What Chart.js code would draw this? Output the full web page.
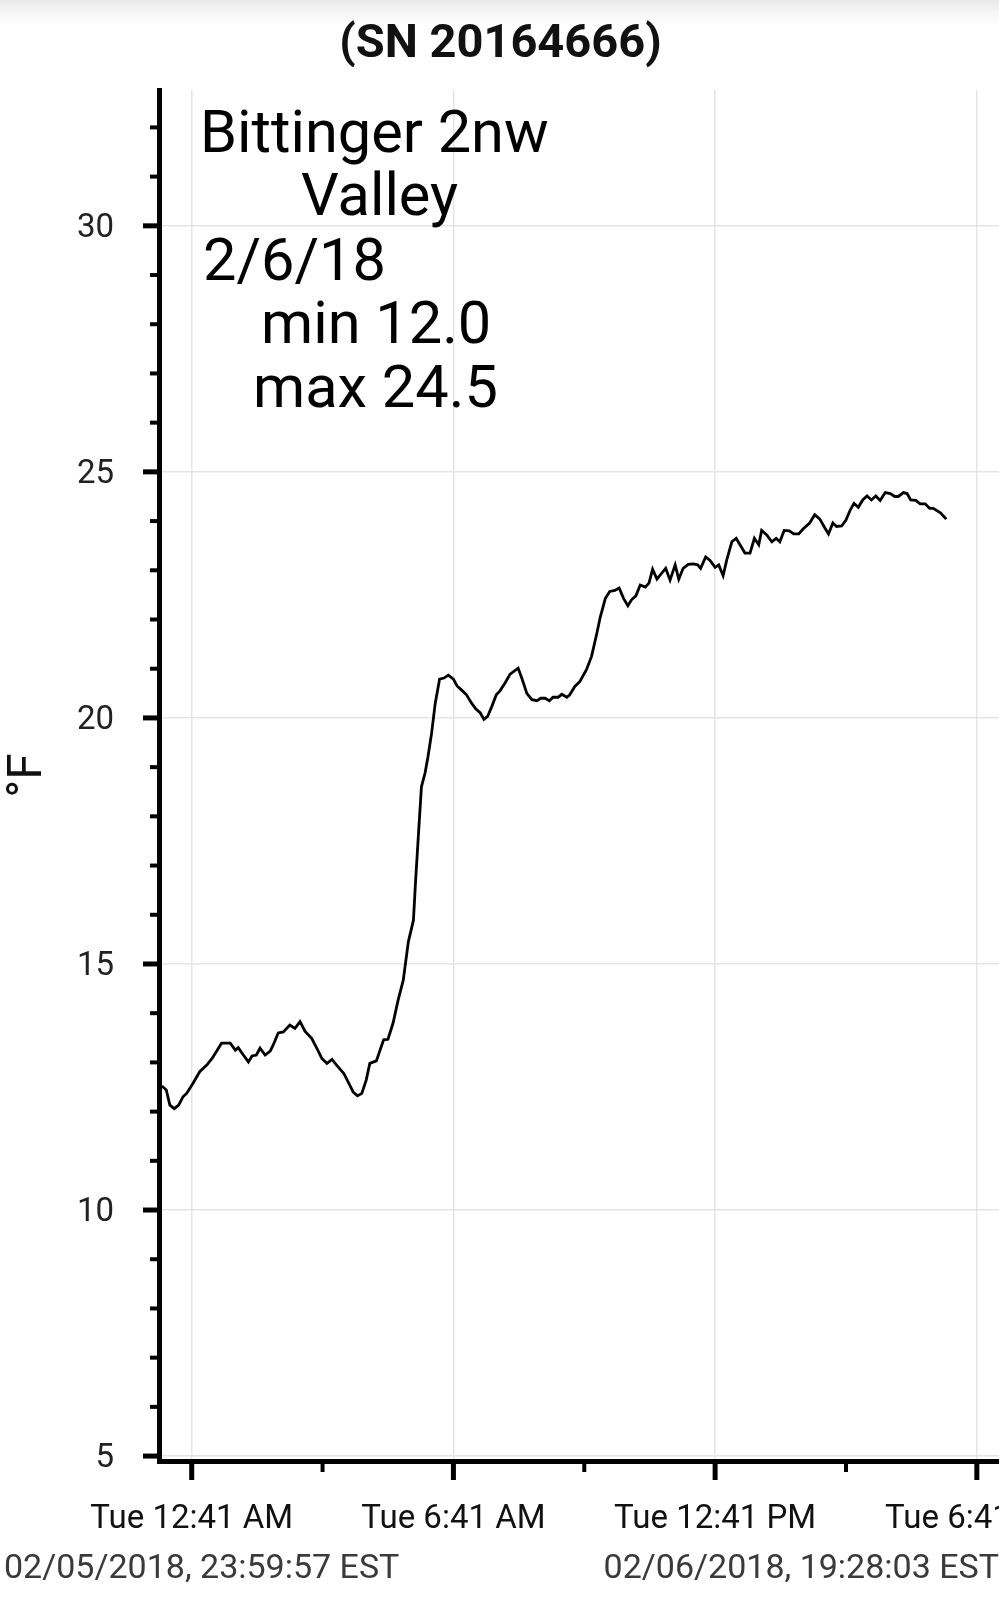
<!DOCTYPE html>
<html><head><meta charset="utf-8">
<script src="https://cdn.jsdelivr.net/npm/chart.js@4.4.1/dist/chart.umd.min.js"></script>
<style>
html,body{margin:0;padding:0;width:999px;height:1600px;overflow:hidden;}
body{background:#fff linear-gradient(#e8e8e8 0px,#f6f6f6 12px,#fff 26px) no-repeat;position:relative;}
#wrap{position:absolute;left:-10px;top:0;width:1130px;height:1600px;}
canvas{display:block}
</style></head><body>
<div id="wrap"><canvas id="c" width="1130" height="1600"></canvas></div>
<script>
// ---- text ----
const titleText = '(SN 20164666)';
const yAxisTitle = '°F';
const noteLines = ['Bittinger 2nw', 'Valley', '2/6/18', 'min 12.0', 'max 24.5'];
const startStamp = '02/05/2018, 23:59:57 EST';
const endStamp = '02/06/2018, 19:28:03 EST';

// ---- axes (x in minutes after midnight, 2/6/18) ----
const xRange = [-4, 1168];
const yRange = [4.9, 32.76];
const xTickMinutes = [41, 221, 401, 581, 761, 941, 1121];
const xTickLabels = ['Tue 12:41 AM', '', 'Tue 6:41 AM', '', 'Tue 12:41 PM', '', 'Tue 6:41 PM'];
const yTickValues = [5,6,7,8,9,10,11,12,13,14,15,16,17,18,19,20,21,22,23,24,25,26,27,28,29,30,31,32];
const yLabelEvery = 5;

// ---- series ----
const readingMinutes = [0,6,11,17,23,29,34,43,52,62,69,75,82,94,101,105,112,119,124,130,135,142,149,153,160,167,176,183,190,197,206,213,220,227,234,240,250,256,263,269,275,281,286,295,305,311,318,325,332,339,346,349,353,357,362,366,371,376,382,388,394,401,406,412,419,426,432,438,443,448,454,460,465,472,479,490,495,502,509,516,521,527,533,538,545,550,557,561,568,575,584,591,598,603,610,616,623,629,635,641,646,652,658,665,670,675,681,688,693,699,706,711,717,724,731,737,741,748,754,761,766,772,777,784,790,796,802,809,815,821,825,832,839,845,850,856,863,869,876,882,891,898,905,912,917,923,928,935,941,947,952,958,964,970,976,982,988,995,1002,1008,1013,1020,1025,1030,1037,1043,1050,1056,1061,1071,1079];
const temperatureF = [12.52,12.44,12.13,12.06,12.13,12.30,12.37,12.58,12.81,12.95,13.08,13.22,13.39,13.39,13.25,13.30,13.15,13.01,13.13,13.15,13.29,13.15,13.23,13.35,13.60,13.62,13.76,13.69,13.83,13.63,13.49,13.29,13.08,12.98,13.06,12.95,12.78,12.61,12.40,12.32,12.37,12.64,12.98,13.03,13.46,13.47,13.80,14.27,14.67,15.45,15.89,16.70,17.66,18.60,18.88,19.21,19.69,20.30,20.79,20.81,20.87,20.79,20.65,20.57,20.47,20.30,20.18,20.10,19.97,20.03,20.24,20.47,20.55,20.71,20.89,21.01,20.81,20.50,20.37,20.35,20.40,20.40,20.35,20.42,20.42,20.48,20.42,20.47,20.64,20.74,20.98,21.25,21.70,22.05,22.43,22.57,22.59,22.64,22.43,22.28,22.40,22.48,22.70,22.66,22.74,23.02,22.82,22.95,23.04,22.80,23.11,22.82,23.04,23.12,23.13,23.11,23.04,23.27,23.20,23.06,23.11,22.89,23.21,23.58,23.65,23.50,23.35,23.35,23.65,23.52,23.81,23.72,23.58,23.65,23.58,23.81,23.80,23.74,23.74,23.84,23.96,24.13,24.04,23.86,23.74,23.96,23.89,23.90,24.02,24.23,24.36,24.28,24.43,24.51,24.43,24.51,24.42,24.58,24.56,24.50,24.50,24.58,24.56,24.43,24.42,24.35,24.35,24.26,24.26,24.17,24.04];

Chart.defaults.font.family = 'Roboto';

const points = readingMinutes.map((m, i) => ({ x: m, y: temperatureF[i] }));

const tickMarks = {
  id: 'tickMarks',
  afterDraw(chart) {
    const { ctx, chartArea: a, scales: { x, y } } = chart;
    ctx.save();
    ctx.strokeStyle = '#000';
    x.ticks.forEach((t) => {
      const i = xTickMinutes.indexOf(t.value);
      const major = !!xTickLabels[i];
      const px = x.getPixelForValue(t.value);
      ctx.lineWidth = major ? 5 : 4;
      ctx.beginPath();
      ctx.moveTo(px, a.bottom);
      ctx.lineTo(px, a.bottom + (major ? 19 : 11));
      ctx.stroke();
    });
    y.ticks.forEach((t) => {
      const major = t.value % yLabelEvery === 0;
      const py = y.getPixelForValue(t.value);
      ctx.lineWidth = major ? 5 : 4;
      ctx.beginPath();
      ctx.moveTo(a.left - (major ? 16 : 9), py);
      ctx.lineTo(a.left, py);
      ctx.stroke();
    });
    ctx.restore();
  }
};

const notes = {
  id: 'notes',
  afterDraw(chart) {
    const ctx = chart.ctx;
    const ox = 10; // canvas is shifted 10px left of the page
    const pos = [[200, 152], [301, 215], [203, 280], [261, 343], [253, 407]];
    ctx.save();
    ctx.font = '59.5px Roboto';
    ctx.fillStyle = '#000';
    ctx.textAlign = 'left';
    ctx.textBaseline = 'alphabetic';
    noteLines.forEach((t, i) => ctx.fillText(t, pos[i][0] + ox, pos[i][1]));
    ctx.font = '34px Roboto';
    ctx.fillStyle = '#3a3a3a';
    ctx.fillText(startStamp, 4 + ox, 1578);
    ctx.textAlign = 'right';
    ctx.fillText(endStamp, 999 + ox, 1578);
    ctx.restore();
  }
};

new Chart(document.getElementById('c'), {
  type: 'line',
  data: {
    datasets: [{
      data: points,
      borderColor: '#000',
      borderWidth: 2.8,
      pointRadius: 0,
      tension: 0,
      fill: false
    }]
  },
  options: {
    responsive: false,
    animation: false,
    devicePixelRatio: 1,
    layout: { padding: { left: 0, right: 109, top: 0, bottom: 0 } },
    plugins: {
      legend: { display: false },
      tooltip: { enabled: false },
      title: {
        display: true,
        text: titleText,
        color: '#111',
        font: { family: 'Roboto', size: 47, weight: 'bold' },
        padding: { top: 17.5, bottom: 16.1 }
      }
    },
    scales: {
      x: {
        type: 'linear',
        min: xRange[0],
        max: xRange[1],
        afterBuildTicks: (s) => { s.ticks = xTickMinutes.map(v => ({ value: v })); },
        afterFit: (s) => { s.height = 139; },
        ticks: {
          autoSkip: false, maxRotation: 0, minRotation: 0,
          padding: 39,
          color: '#111',
          font: { size: 33 },
          callback: (v) => xTickLabels[xTickMinutes.indexOf(v)]
        },
        grid: {
          drawTicks: false,
          lineWidth: 1.5,
          color: (c) => (c.tick && xTickLabels[xTickMinutes.indexOf(c.tick.value)]) ? '#e5e5e5' : 'rgba(0,0,0,0)'
        },
        border: { color: '#000', width: 5 }
      },
      y: {
        type: 'linear',
        min: yRange[0],
        max: yRange[1],
        afterBuildTicks: (s) => { s.ticks = yTickValues.map(v => ({ value: v })); },
        afterFit: (s) => { s.width = 169; },
        ticks: {
          padding: 45,
          labelOffset: 3,
          color: '#222',
          font: { size: 33 },
          callback: (v) => (v % yLabelEvery === 0 ? String(v) : '')
        },
        grid: {
          drawTicks: false,
          lineWidth: 1.5,
          color: (c) => (c.tick && c.tick.value % yLabelEvery === 0) ? '#e5e5e5' : 'rgba(0,0,0,0)'
        },
        border: { color: '#000', width: 5 },
        title: {
          display: true,
          text: yAxisTitle,
          color: '#111',
          font: { size: 48 },
          padding: { top: 10, bottom: 0 }
        }
      }
    }
  },
  plugins: [tickMarks, notes]
});
</script></body></html>
